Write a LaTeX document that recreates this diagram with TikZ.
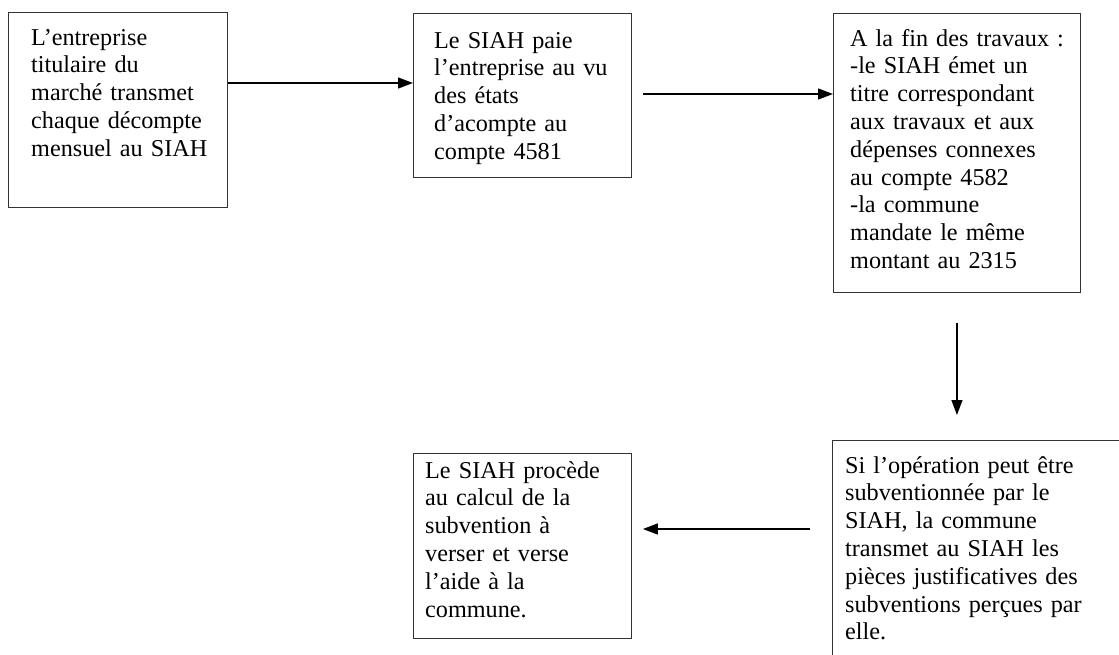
\documentclass[tikz,border=0pt]{standalone}
\usepackage{fontspec}
\setmainfont{Liberation Serif}
\usetikzlibrary{arrows.meta}
\begin{document}
\begin{tikzpicture}[x=1pt,y=-1pt,
  boxr/.style={draw=black!80,line width=0.9pt,inner sep=0pt,anchor=north west},
  txt/.style={anchor=base west,inner sep=0pt,align=left,text width=#1,
    font=\fontsize{24.2}{27.8}\selectfont},
  arr/.style={-{Triangle[length=15pt,width=11pt]},line width=1.3pt,black}]
\useasboundingbox (0,0) rectangle (1119,654);
\fill[white] (0,0) rectangle (1119,654);
% boxes
\node[boxr,minimum width=219pt,minimum height=195pt] (b1) at (8,12) {};
\node[boxr,minimum width=218pt,minimum height=164pt] (b2) at (413,13) {};
\node[boxr,minimum width=247pt,minimum height=279pt] (b3) at (833,13) {};
\node[boxr,minimum width=300pt,minimum height=230pt] (b4) at (832,440) {};
\node[boxr,minimum width=218pt,minimum height=185pt] (b5) at (413,453) {};
% texts
\node[txt=200pt] (t1) at (31,45) {L’entreprise\\titulaire du\\marché transmet\\chaque décompte\\mensuel au SIAH};
\node[txt=200pt] (t2) at (434,48) {Le SIAH paie\\l’entreprise au vu\\des états\\d’acompte au\\compte 4581};
\node[txt=230pt] (t3) at (850,46) {A la fin des travaux :\\-le SIAH émet un\\titre correspondant\\aux travaux et aux\\dépenses connexes\\au compte 4582\\-la commune\\mandate le même\\montant au 2315};
\node[txt=270pt] (t4) at (845,473) {Si l’opération peut être\\subventionnée par le\\SIAH, la commune\\transmet au SIAH les\\pièces justificatives des\\subventions perçues par\\elle.};
\node[txt=200pt] (t5) at (425,478) {Le SIAH procède\\au calcul de la\\subvention à\\verser et verse\\l’aide à la\\commune.};
% arrows
\coordinate (y1) at (0,83);
\coordinate (y2) at (0,94);
\coordinate (y4) at (0,529);
\draw[arr] (b1.east |- y1) -- (b2.west |- y1);
\draw[arr,shorten <=11pt] (b2.east |- y2) -- (b3.west |- y2);
\draw[arr,shorten <=30pt,shorten >=25pt] (b3.south) -- (b3.south |- b4.north);
\draw[arr,shorten <=22pt,shorten >=11pt] (b4.west |- y4) -- (b5.east |- y4);
\end{tikzpicture}
\end{document}
